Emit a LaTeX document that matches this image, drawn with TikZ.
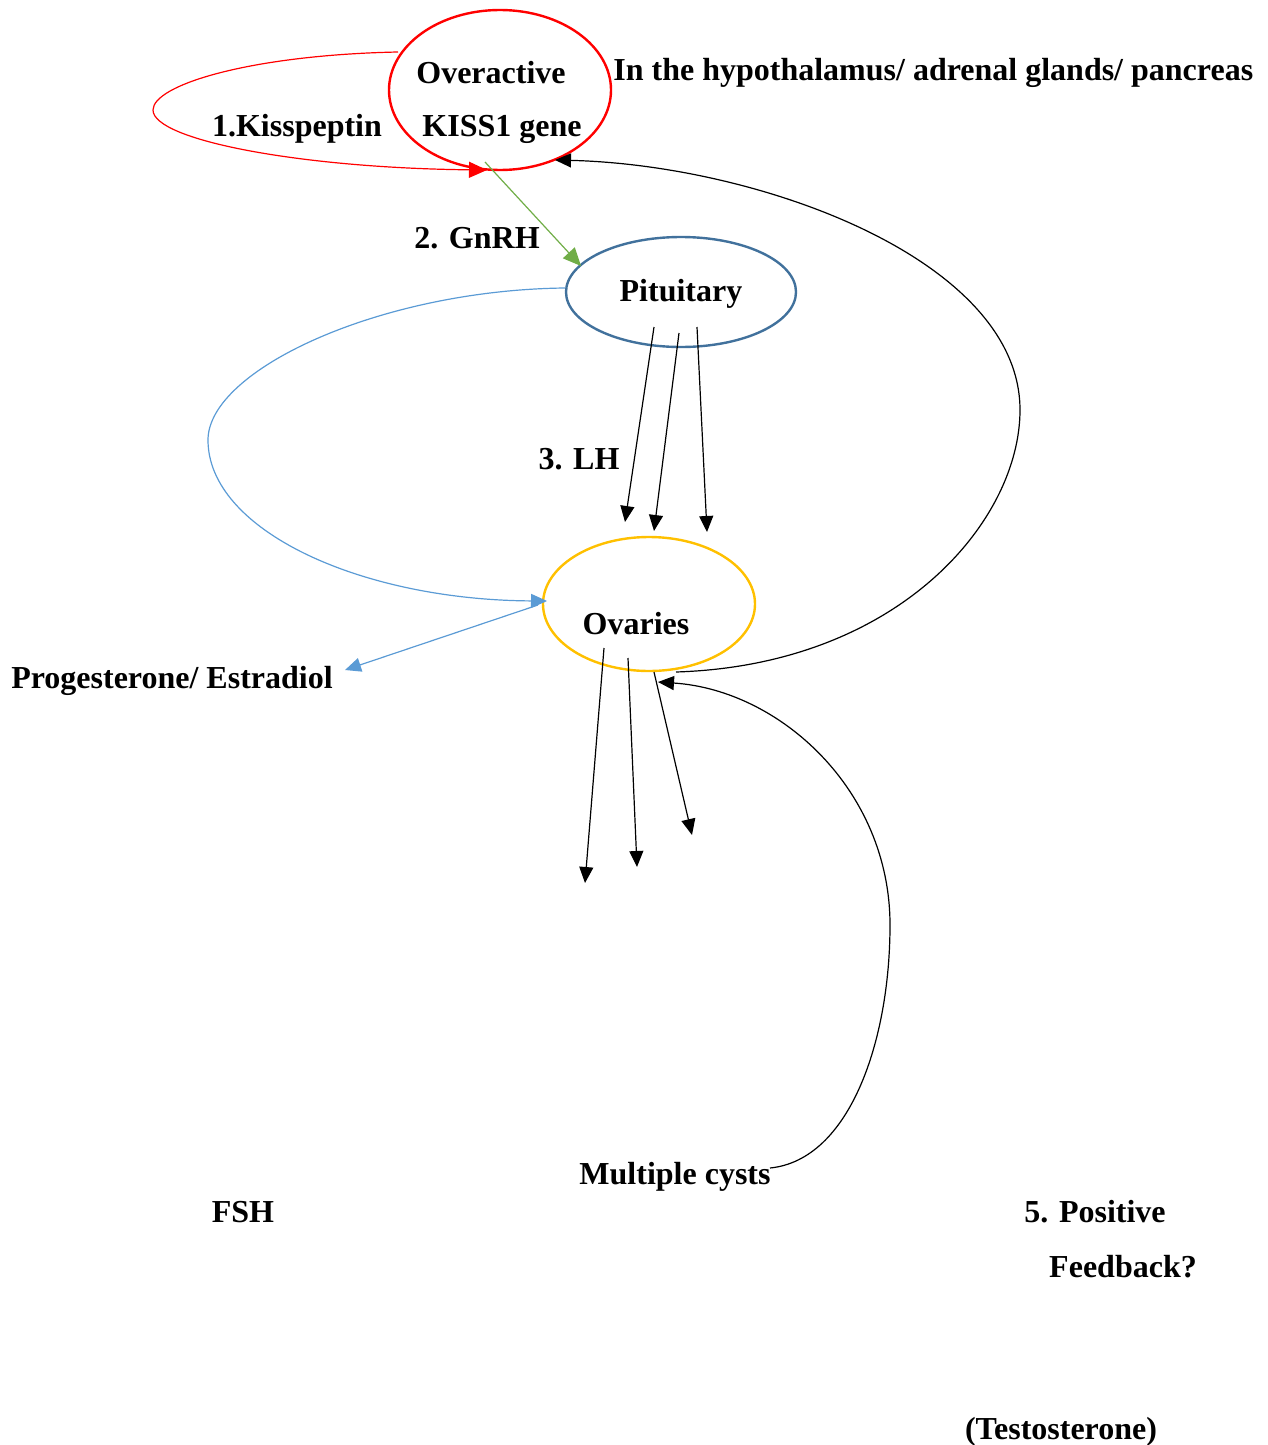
\documentclass[tikz,border=0pt]{standalone}
\usepackage{fontspec}
\setmainfont{Liberation Serif}
\usetikzlibrary{arrows.meta,shapes.geometric}
\definecolor{kissred}{RGB}{255,0,0}
\definecolor{gnrhgreen}{RGB}{112,173,71}
\definecolor{pitblue}{RGB}{65,113,156}
\definecolor{lightblue}{RGB}{91,155,213}
\definecolor{ovgold}{RGB}{255,192,0}
\tikzset{
  lbl/.style={font=\fontsize{16}{19}\selectfont\bfseries, inner sep=0pt, text=black},
  organ/.style={ellipse, draw, inner sep=0pt, line width=1.2pt},
  blk/.style={draw=black, line width=0.6pt, -{Triangle[length=8pt,width=7pt]}},
}
\begin{document}
\begin{tikzpicture}[x=0.5pt,y=-0.5pt]
\useasboundingbox (0,0) rectangle (1268,1445);
% organs
\node[organ, draw=kissred, minimum width=111pt, minimum height=80pt] (kiss) at (500,90) {};
\node[organ, draw=pitblue, minimum width=115pt, minimum height=55pt] (pit) at (681,292) {};
\node[organ, draw=ovgold, minimum width=106pt, minimum height=67pt] (ova) at (649,604) {};
% labels
\node[lbl] (over) at (491,73) {Overactive};
\node[lbl] (kissgene) at (502,129) {KISS1 gene};
\node[lbl] (kisspep) at (297,129) {1.Kisspeptin};
\node[lbl, anchor=west] (where) at (613,73) {In the hypothalamus/ adrenal glands/ pancreas};
\node[lbl] (gnrh) at (477,238) {2. GnRH};
\node[lbl] (pitlbl) at (681,294) {Pituitary};
\node[lbl] (lh) at (579,459) {3. LH};
\node[lbl] (ovlbl) at (636,624) {Ovaries};
\node[lbl] (prog) at (172,681) {Progesterone/ Estradiol};
\node[lbl] (cysts) at (675,1177) {Multiple cysts};
\node[lbl] (fsh) at (243,1212) {FSH};
\node[lbl] (pos) at (1095,1212) {5. Positive};
\node[lbl] (fb) at (1123,1267) {Feedback?};
\node[lbl] (testo) at (1061,1432) {(Testosterone)};
% coordinates
\coordinate (loopS) at (398,52);
\coordinate (loopE) at (487,170);
\coordinate (gS) at (485,162);
\coordinate (gE) at (581,266);
\coordinate (lh1s) at (654,327); \coordinate (lh1e) at (625,522);
\coordinate (lh2s) at (679,333); \coordinate (lh2e) at (654,531);
\coordinate (lh3s) at (697,327); \coordinate (lh3e) at (707,532);
\coordinate (bS) at (565,288);
\coordinate (bE) at (547,601);
\coordinate (pS) at (538,605);
\coordinate (pE) at (345,670);
\coordinate (o1s) at (604,648); \coordinate (o1e) at (585,883);
\coordinate (o2s) at (628,658); \coordinate (o2e) at (637,867);
\coordinate (o3s) at (654,672); \coordinate (o3e) at (692,835);
\coordinate (fbS) at (676,672);
\coordinate (fbE) at (555,160);
\coordinate (cyS) at (770,1168);
\coordinate (cyE) at (658,682);
% red kisspeptin loop
\draw[kissred, line width=0.6pt, -{Triangle[length=9pt,width=8pt]}]
  (loopS) .. controls (250,55) and (153,85) .. (153,110)
          .. controls (153,140) and (300,168) .. (loopE);
% GnRH
\draw[gnrhgreen, line width=0.6pt, -{Triangle[length=9pt,width=8pt]}] (gS) -- (gE);
% LH arrows
\draw[blk] (lh1s) -- (lh1e);
\draw[blk] (lh2s) -- (lh2e);
\draw[blk] (lh3s) -- (lh3e);
% blue curve pituitary -> ovaries
\draw[lightblue, line width=0.6pt, -{Triangle[length=8pt,width=7pt]}]
  (bS) .. controls (380,290) and (208,370) .. (208,440)
       .. controls (208,530) and (360,600) .. (bE);
% progesterone arrow
\draw[lightblue, line width=0.6pt, -{Triangle[length=8pt,width=7pt]}] (pS) -- (pE);
% ovary outputs
\draw[blk] (o1s) -- (o1e);
\draw[blk] (o2s) -- (o2e);
\draw[blk] (o3s) -- (o3e);
% big feedback curve
\draw[blk] (fbS) .. controls (900,665) and (1020,520) .. (1020,410)
                 .. controls (1020,260) and (760,165) .. (fbE);
% cysts curve
\draw[blk] (cyS) .. controls (850,1160) and (890,1040) .. (890,925)
                 .. controls (890,790) and (780,690) .. (cyE);
\end{tikzpicture}
\end{document}
